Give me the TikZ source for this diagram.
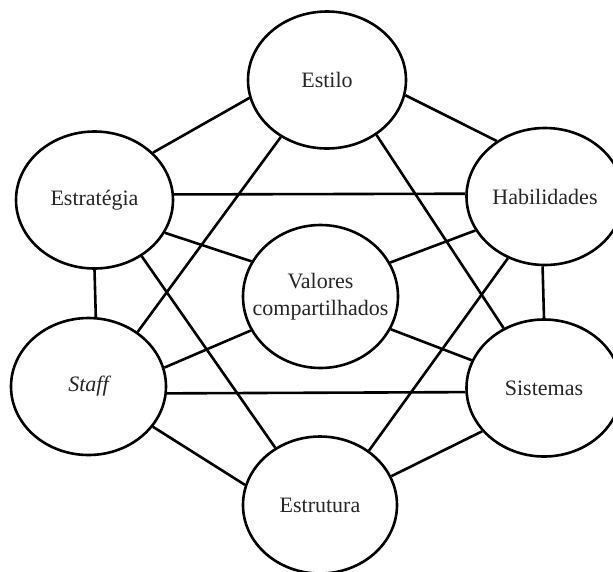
\documentclass[tikz,border=0pt]{standalone}
\usepackage{fontspec}
\setmainfont{Liberation Serif}
\usetikzlibrary{shapes.geometric}

\tikzset{
  oval/.style={ellipse, draw=black, line width=2.6pt, fill=white,
               inner sep=0pt, minimum width=157pt, minimum height=137pt},
  link/.style={draw=black, line width=2.6pt},
  caption/.style={font=\fontsize{22}{27}\selectfont, text=black!85, align=center}
}

\begin{document}
\begin{tikzpicture}[x=1pt, y=-1pt]
  \useasboundingbox (0,0) rectangle (613,571);

  % the seven elements
  \node[oval, minimum width=158pt, label={[caption]center:Estilo}] (estilo) at (327,80) {};
  \node[oval, label={[caption]center:Estratégia}] (estrategia) at (94.5,200) {};
  \node[oval, label={[caption]center:Habilidades}] (habilidades) at (545,196.5) {};
  \node[oval, minimum width=155pt, minimum height=143pt,
        label={[caption]center:Valores\\compartilhados}] (valores) at (320.5,296.5) {};
  \node[oval, minimum width=155pt, label={[caption]center:\itshape Staff}] (staff) at (88.5,386.5) {};
  \node[oval, minimum width=155pt, label={[caption]center:Sistemas}] (sistemas) at (544,388) {};
  \node[oval, minimum width=154pt, label={[caption]center:Estrutura}] (estrutura) at (320,505) {};

  % connections between the elements
  \path[link] (estilo.193.2) -- (estrategia.39.9);
  \path[link] (estilo.349) -- (habilidades.131.4);
  \path[link] (estilo.231.7) -- (staff.48.3);
  \path[link] (estilo.312.3) -- (sistemas.124.6);

  \path[link] (estrategia.4.4) -- (habilidades.178);
  \path[link] (estrategia.335) -- (valores.153.3);
  \path[link] (estrategia.310.8) -- (estrutura.128.8);
  \path[link] (estrategia.270) -- (staff.84.6);

  \path[link] (habilidades.206.2) -- (valores.26.1);
  \path[link] (habilidades.239.8) -- (estrutura.48.9);
  \path[link] (habilidades.268.3) -- (sistemas.90);

  \path[link] (staff.14.7) -- (valores.206.4);
  \path[link] (staff.355.2) -- (sistemas.183.7);
  \path[link] (staff.328.5) -- (estrutura.165.1);

  \path[link] (sistemas.159.2) -- (valores.335.6);
  \path[link] (sistemas.215.4) -- (estrutura.22.6);
\end{tikzpicture}
\end{document}
